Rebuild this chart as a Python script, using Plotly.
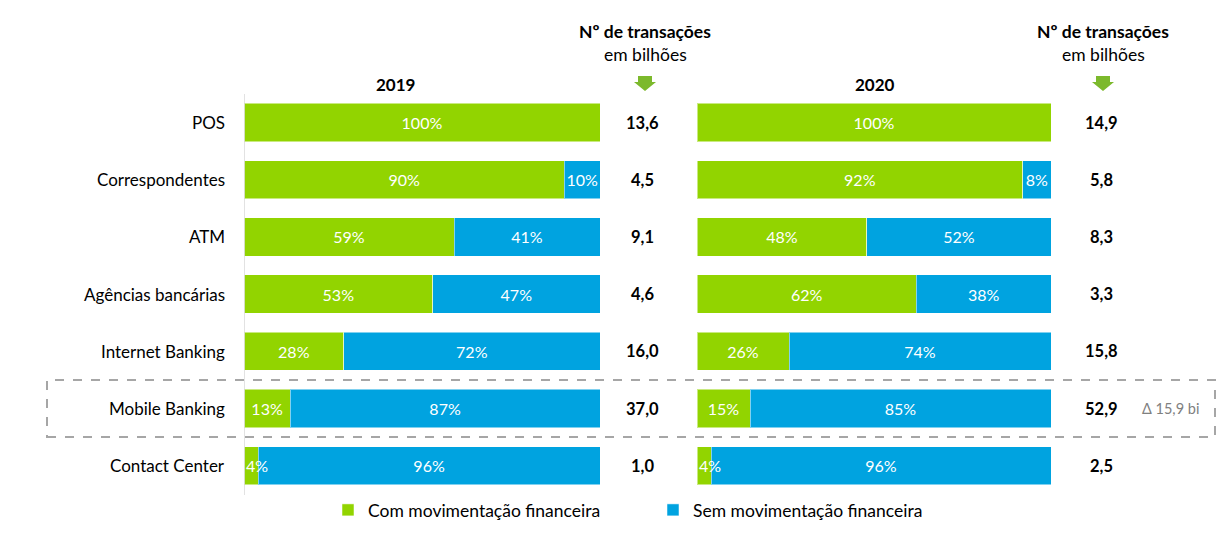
import plotly.graph_objects as go

categories = ["POS", "Correspondentes", "ATM", "Agências bancárias",
              "Internet Banking", "Mobile Banking", "Contact Center"]
com_2019 = [100, 90, 59, 53, 28, 13, 4]
sem_2019 = [0, 10, 41, 47, 72, 87, 96]
com_2020 = [100, 92, 48, 62, 26, 15, 4]
sem_2020 = [0, 8, 52, 38, 74, 85, 96]
trans_2019 = ["13,6", "4,5", "9,1", "4,6", "16,0", "37,0", "1,0"]
trans_2020 = ["14,9", "5,8", "8,3", "3,3", "15,8", "52,9", "2,5"]
years = ["2019", "2020"]
series_names = ["Com movimentação financeira", "Sem movimentação financeira"]
delta_label = "Δ 15,9 bi"

GREEN = "#92D400"
BLUE = "#00A3E0"
ARROW = "#7CB92C"
FONT = "Lato"
W, H = 1229, 535
OFF = 8  # page body margin
SMALL = 6  # segments narrower than this get their label placed from the bar start


def px(x):
    return (x - OFF) / W


def py(y):
    return 1 - (y - OFF) / H


ROW0 = 122.5 - OFF
STEP = 57.2

fig = go.Figure()
annotations = []

panels = [("x", com_2019, sem_2019), ("x2", com_2020, sem_2020)]
for i, (xa, com, sem) in enumerate(panels):
    for name, vals, color in [(series_names[0], com, GREEN), (series_names[1], sem, BLUE)]:
        fig.add_trace(go.Bar(
            y=categories, x=vals, orientation="h", name=name,
            marker=dict(color=color, line=dict(color="rgba(255,255,255,0.5)", width=1)),
            text=[f"{v}%" if v >= SMALL else "" for v in vals],
            textposition="inside", insidetextanchor="middle", constraintext="none",
            textangle=0,
            textfont=dict(color="white", size=16, family=FONT),
            width=0.67, xaxis=xa, yaxis="y",
            showlegend=(i == 0), legendgroup=name, hoverinfo="skip",
        ))
    # small first-segment labels, drawn from the bar start
    for cat, v in zip(categories, com):
        if 0 < v < SMALL:
            annotations.append(dict(x=0, y=cat, xref=xa, yref="y", text=f"{v}%",
                                    xanchor="left", yanchor="middle", showarrow=False,
                                    xshift=0,
                                    font=dict(size=16, family=FONT, color="white")))

fig.update_layout(
    barmode="stack",
    width=W, height=H,
    margin=dict(l=0, r=0, t=0, b=0),
    paper_bgcolor="white", plot_bgcolor="white",
    font=dict(family=FONT, size=17, color="black"),
    xaxis=dict(domain=[px(244), px(600)], range=[0, 100], visible=False, fixedrange=True),
    xaxis2=dict(domain=[px(697), px(1051)], range=[0, 100], visible=False, fixedrange=True),
    yaxis=dict(type="category", categoryorder="array", categoryarray=categories,
               range=[(H - ROW0) / STEP, -ROW0 / STEP], visible=False),
    legend=dict(orientation="h", x=px(328), y=py(510), xanchor="left", yanchor="middle",
                entrywidth=280, entrywidthmode="pixels", font=dict(size=17.5, family=FONT),
                bgcolor="rgba(0,0,0,0)", traceorder="normal"),
    showlegend=True,
)

for cat in categories:
    annotations.append(dict(x=px(227), y=cat, xref="paper", yref="y", text=cat,
                            xanchor="right", yanchor="middle", showarrow=False,
                            font=dict(size=17, family=FONT, color="black")))
for cx, vals in [(642, trans_2019), (1101, trans_2020)]:
    for cat, v in zip(categories, vals):
        annotations.append(dict(x=px(cx), y=cat, xref="paper", yref="y", text=f"<b>{v}</b>",
                                xanchor="center", yanchor="middle", showarrow=False,
                                font=dict(size=16.5, family=FONT, color="black")))
for cx, yr in [(395, years[0]), (875, years[1])]:
    annotations.append(dict(x=px(cx), y=py(85), xref="paper", yref="paper", text=f"<b>{yr}</b>",
                            xanchor="center", yanchor="middle", showarrow=False,
                            font=dict(size=17, family=FONT, color="black")))
for cx in [645, 1103]:
    annotations.append(dict(x=px(cx), y=py(32), xref="paper", yref="paper",
                            text="<b>Nº de transações</b>", xanchor="center", yanchor="middle",
                            showarrow=False, font=dict(size=17.5, family=FONT, color="black")))
    annotations.append(dict(x=px(cx), y=py(54), xref="paper", yref="paper",
                            text="em bilhões", xanchor="center", yanchor="middle",
                            showarrow=False, font=dict(size=17.5, family=FONT, color="black")))
annotations.append(dict(x=px(1170), y=categories[5], xref="paper", yref="y", text=delta_label,
                        xanchor="center", yanchor="middle", showarrow=False,
                        font=dict(size=14.5, family=FONT, color="#808080")))
fig.update_layout(annotations=annotations)

shapes = []
for cx in [645, 1103]:
    path = (f"M {px(cx-7)},{py(76)} L {px(cx+7)},{py(76)} L {px(cx+7)},{py(82)} "
            f"L {px(cx+11)},{py(82)} L {px(cx)},{py(91)} L {px(cx-11)},{py(82)} "
            f"L {px(cx-7)},{py(82)} Z")
    shapes.append(dict(type="path", path=path, xref="paper", yref="paper",
                       fillcolor=ARROW, line=dict(width=0)))
shapes.append(dict(type="line", xref="x", yref="paper", x0=0, x1=0, y0=py(94), y1=py(495),
                   line=dict(color="#D9D9D9", width=1.5)))
shapes.append(dict(type="rect", xref="paper", yref="paper", x0=px(47), x1=px(1215),
                   y0=py(437), y1=py(380), line=dict(color="#A6A6A6", width=2, dash="dash"),
                   fillcolor="rgba(0,0,0,0)"))
fig.update_layout(shapes=shapes)

fig.write_html("out.html")
